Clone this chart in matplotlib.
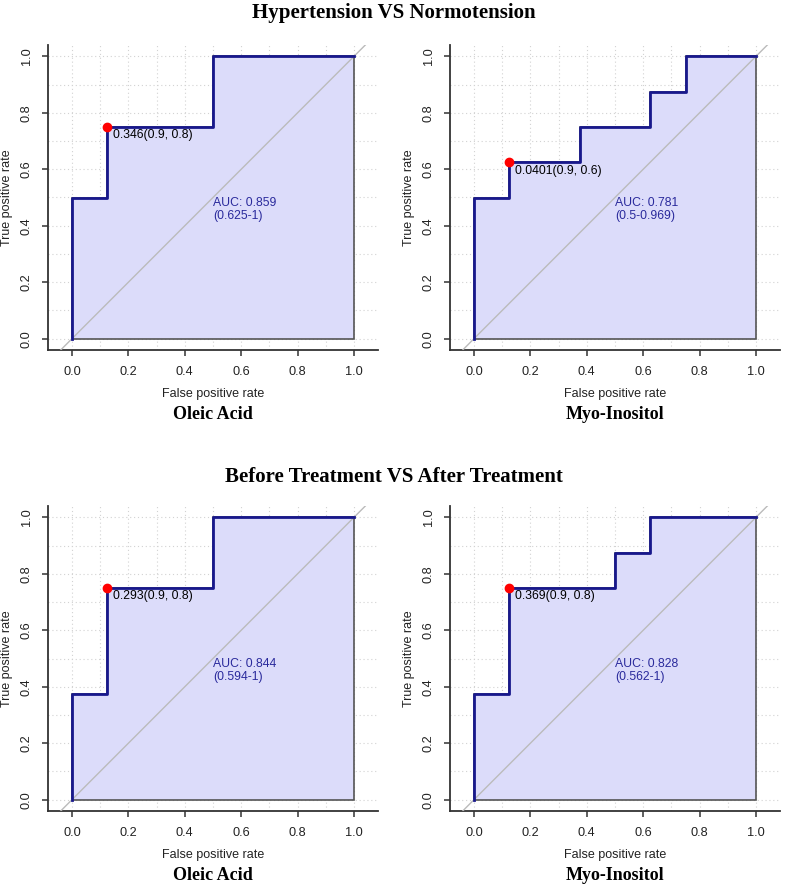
import matplotlib
matplotlib.use("Agg")
import matplotlib.pyplot as plt
from matplotlib.ticker import MultipleLocator

# ROC step curves (false positive rate, true positive rate)
fpr_oleic_hn = [0, 0, 0.125, 0.125, 0.5, 0.5, 1]
tpr_oleic_hn = [0, 0.5, 0.5, 0.75, 0.75, 1, 1]
fpr_myo_hn = [0, 0, 0.125, 0.125, 0.375, 0.375, 0.625, 0.625, 0.75, 0.75, 1]
tpr_myo_hn = [0, 0.5, 0.5, 0.625, 0.625, 0.75, 0.75, 0.875, 0.875, 1, 1]
fpr_oleic_bt = [0, 0, 0.125, 0.125, 0.5, 0.5, 1]
tpr_oleic_bt = [0, 0.375, 0.375, 0.75, 0.75, 1, 1]
fpr_myo_bt = [0, 0, 0.125, 0.125, 0.5, 0.5, 0.625, 0.625, 1]
tpr_myo_bt = [0, 0.375, 0.375, 0.75, 0.75, 0.875, 0.875, 1, 1]

# best threshold points and labels
best_points = [(0.125, 0.75), (0.125, 0.625), (0.125, 0.75), (0.125, 0.75)]
best_labels = ["0.346(0.9, 0.8)", "0.0401(0.9, 0.6)", "0.293(0.9, 0.8)", "0.369(0.9, 0.8)"]
auc_labels = ["AUC: 0.859\n(0.625-1)", "AUC: 0.781\n(0.5-0.969)",
              "AUC: 0.844\n(0.594-1)", "AUC: 0.828\n(0.562-1)"]
metabolites = ["Oleic Acid", "Myo-Inositol", "Oleic Acid", "Myo-Inositol"]
group_titles = ["Hypertension VS Normotension", "Before Treatment VS After Treatment"]
tick_vals = [0.0, 0.2, 0.4, 0.6, 0.8, 1.0]

curves = [(fpr_oleic_hn, tpr_oleic_hn), (fpr_myo_hn, tpr_myo_hn),
          (fpr_oleic_bt, tpr_oleic_bt), (fpr_myo_bt, tpr_myo_bt)]

W, H = 787, 888
fig = plt.figure(figsize=(W / 100, H / 100), dpi=100)
fig.patch.set_facecolor("white")

sans = ["Liberation Sans", "DejaVu Sans"]
serif = ["Liberation Serif", "DejaVu Serif"]

# axes boxes in pixels: left, top, width, height
boxes = [(48, 45, 330, 305), (450, 45, 330, 305),
         (48, 506, 330, 305), (450, 506, 330, 305)]

fill_col = "#DCDCFA"
line_col = "#18188C"
text_col = "#2A2A9C"
axis_col = "#333333"

for i, (x, y) in enumerate(curves):
    l, t, w, h = boxes[i]
    ax = fig.add_axes([l / W, 1 - (t + h) / H, w / W, h / H])
    ax.set_xlim(-0.085, 1.085)
    ax.set_ylim(-0.04, 1.04)

    ax.xaxis.set_minor_locator(MultipleLocator(0.1))
    ax.yaxis.set_minor_locator(MultipleLocator(0.1))
    ax.grid(True, which="both", color="#D2D2D2", linestyle=(0, (1, 2.5)), linewidth=0.8)
    ax.set_axisbelow(True)

    # polygon under the curve
    px = list(x) + [1, 0]
    py = list(y) + [0, 0]
    ax.fill(px, py, facecolor=fill_col, edgecolor="#555555", linewidth=1.2, zorder=2)
    ax.axline((0, 0), (1, 1), color="#BBBBBB", linewidth=1, zorder=3)
    ax.plot(x, y, color=line_col, linewidth=2, zorder=4)

    bx, by = best_points[i]
    ax.plot([bx], [by], "o", color="#FF0000", markersize=6, zorder=5)
    ax.text(bx + 0.02, by - 0.03, best_labels[i], fontsize=8.8, family=sans,
            color="black", ha="left", va="center", zorder=6)
    ax.text(0.5, 0.458, auc_labels[i], fontsize=8.8, family=sans, color=text_col,
            ha="left", va="center", linespacing=1.15, zorder=6)

    for s in ["top", "right"]:
        ax.spines[s].set_visible(False)
    for s in ["left", "bottom"]:
        ax.spines[s].set_color(axis_col)
        ax.spines[s].set_linewidth(1.3)

    ax.set_xticks(tick_vals)
    ax.set_yticks(tick_vals)
    ax.set_xticklabels(["%.1f" % v for v in tick_vals], family=sans)
    ax.set_yticklabels(["%.1f" % v for v in tick_vals], family=sans,
                       rotation=90, va="center")
    ax.tick_params(which="major", direction="out", length=4, width=1.1, color=axis_col,
                   labelsize=9.2, labelcolor="#222222")
    ax.tick_params(axis="x", pad=7.5)
    ax.tick_params(axis="y", pad=7)
    ax.tick_params(which="minor", length=0)

    ax.annotate("False positive rate", xy=(0.5, 0), xycoords=("data", "axes fraction"),
                xytext=(0, -44), textcoords="offset pixels", ha="center", va="center",
                fontsize=9, family=sans, color="#222222")
    ax.annotate("True positive rate", xy=(0, 0.5), xycoords="axes fraction",
                xytext=(-41, 0), textcoords="offset pixels", ha="center", va="center",
                rotation=90, fontsize=9, family=sans, color="#222222")
    ax.annotate(metabolites[i], xy=(0.5, 0), xycoords=("data", "axes fraction"),
                xytext=(0, -69), textcoords="offset pixels", ha="center", va="baseline",
                fontsize=13, family=serif, fontweight="bold", color="black")

fig.text(0.5, 1 - 18 / H, group_titles[0], ha="center", va="baseline",
         fontsize=15, family=serif, fontweight="bold")
fig.text(0.5, 1 - 482 / H, group_titles[1], ha="center", va="baseline",
         fontsize=15, family=serif, fontweight="bold")

fig.savefig("out.png", dpi=100)
